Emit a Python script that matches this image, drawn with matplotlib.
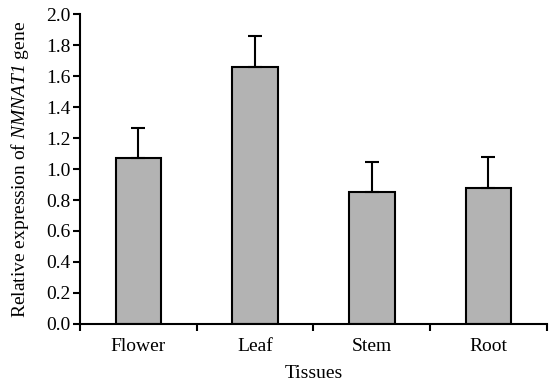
import matplotlib
matplotlib.use("Agg")
import matplotlib.pyplot as plt
import numpy as np

plt.rcParams['font.family'] = ['Liberation Serif', 'DejaVu Serif']
plt.rcParams['mathtext.fontset'] = 'custom'
plt.rcParams['mathtext.it'] = 'Liberation Serif:italic'
# digits in math mode come from the rm font, so make it italic too
plt.rcParams['mathtext.rm'] = 'Liberation Serif:italic'

tissues = ['Flower', 'Leaf', 'Stem', 'Root']
expression = [1.07, 1.66, 0.85, 0.88]
errors = [0.195, 0.20, 0.195, 0.195]
yticks = [0.0, 0.2, 0.4, 0.6, 0.8, 1.0, 1.2, 1.4, 1.6, 1.8, 2.0]

fig = plt.figure(figsize=(5.49, 3.82), dpi=100)
ax = fig.add_axes([0.146, 0.152, 0.85, 0.811])

x = np.arange(len(tissues))
ax.bar(x, expression, width=0.39, color='#b3b3b3', edgecolor='black', linewidth=1.5, zorder=2)
ax.errorbar(x, expression, yerr=[np.zeros(len(errors)), errors], fmt='none',
            ecolor='black', elinewidth=1.5, capsize=5, capthick=1.5, zorder=3)

ax.set_xlim(-0.5, len(tissues) - 0.5)
ax.set_ylim(0, 2.0)
ax.set_yticks(yticks)
ax.set_yticklabels([f'{v:.1f}' for v in yticks])

# category labels centred, ticks at the boundaries
ax.set_xticks(np.arange(len(tissues) + 1) - 0.5)
ax.set_xticklabels([])
ax.set_xticks(x, minor=True)
ax.set_xticklabels(tissues, minor=True)
ax.tick_params(axis='x', which='minor', length=0, pad=10)
ax.tick_params(axis='x', which='major', length=5, width=1.5, direction='out')
ax.tick_params(axis='y', length=5, width=1.5, direction='out', pad=2)
ax.tick_params(which='both', labelsize=14)

for s in ['top', 'right']:
    ax.spines[s].set_visible(False)
for s in ['left', 'bottom']:
    ax.spines[s].set_linewidth(1.5)

ax.set_xlabel('Tissues', fontsize=14, labelpad=7)
ax.set_ylabel(r'Relative expression of $\mathit{NMNAT1}$ gene', fontsize=14, labelpad=11)

fig.savefig('out.png', dpi=100)
